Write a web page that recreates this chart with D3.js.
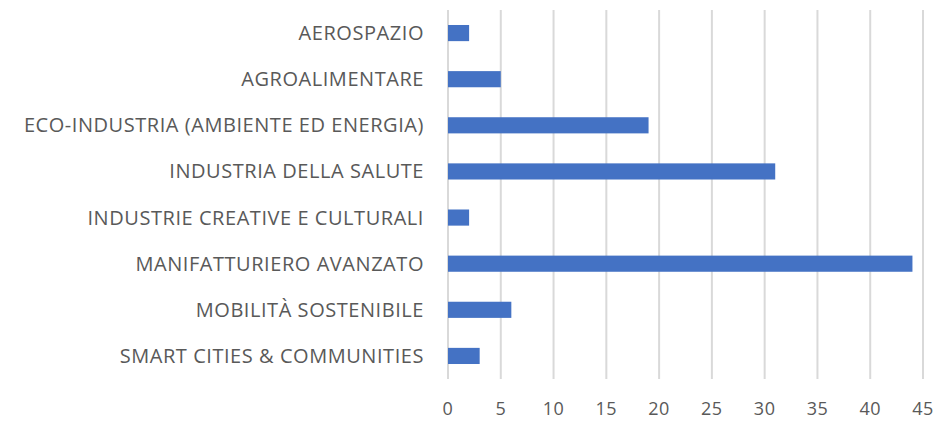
<html>
<head>
<script src="https://d3js.org/d3.v7.min.js"></script>
<style>
    body { margin: 0; background: #fff; }
    .grid line { stroke: #d9d9d9; stroke-width: 2px; }
    .label { fill: #595959; font-family: "Open Sans", sans-serif; }
    .cat { font-size: 20px; letter-spacing: 0.55px; }
    .tick { font-size: 18px; letter-spacing: 0.5px; }
    .bar { fill: #4472c4; }
</style>
</head>
<body>
    <svg id="chart" width="937" height="421"></svg>
</body>
<script>
    const categories = [
        "AEROSPAZIO",
        "AGROALIMENTARE",
        "ECO-INDUSTRIA (AMBIENTE ED ENERGIA)",
        "INDUSTRIA DELLA SALUTE",
        "INDUSTRIE CREATIVE E CULTURALI",
        "MANIFATTURIERO AVANZATO",
        "MOBILITÀ SOSTENIBILE",
        "SMART CITIES & COMMUNITIES"
    ];
    const values = [2, 5, 19, 31, 2, 44, 6, 3];
    const ticks = [0, 5, 10, 15, 20, 25, 30, 35, 40, 45];

    const svg = d3.select("#chart");
    const margin = { top: 10, right: 14, bottom: 42, left: 448 };
    const width = +svg.attr("width") - margin.left - margin.right;
    const height = +svg.attr("height") - margin.top - margin.bottom;

    const x = d3.scaleLinear().domain([0, 45]).range([0, width]);
    const y = d3.scaleBand().domain(categories).range([0, height]).paddingInner(0.65).paddingOuter(0.325);

    const g = svg.append("g")
        .attr("transform", "translate(" + margin.left + "," + margin.top + ")");

    // vertical gridlines
    g.append("g").attr("class", "grid")
        .selectAll("line").data(ticks)
        .join("line")
        .attr("x1", d => x(d)).attr("x2", d => x(d))
        .attr("y1", 0).attr("y2", height);

    g.selectAll("rect.bar").data(values)
        .join("rect")
        .attr("class", "bar")
        .attr("x", x(0))
        .attr("y", (d, i) => y(categories[i]))
        .attr("width", d => x(d) - x(0))
        .attr("height", y.bandwidth());

    // category labels
    g.selectAll("text.cat").data(categories)
        .join("text")
        .attr("class", "label cat")
        .attr("x", -24)
        .attr("y", d => y(d) + y.bandwidth() / 2)
        .attr("dy", "0.35em")
        .attr("text-anchor", "end")
        .text(d => d);

    // tick labels
    g.selectAll("text.tick").data(ticks)
        .join("text")
        .attr("class", "label tick")
        .attr("x", d => x(d))
        .attr("y", height + 36)
        .attr("text-anchor", "middle")
        .text(d => d);
</script>
</html>
